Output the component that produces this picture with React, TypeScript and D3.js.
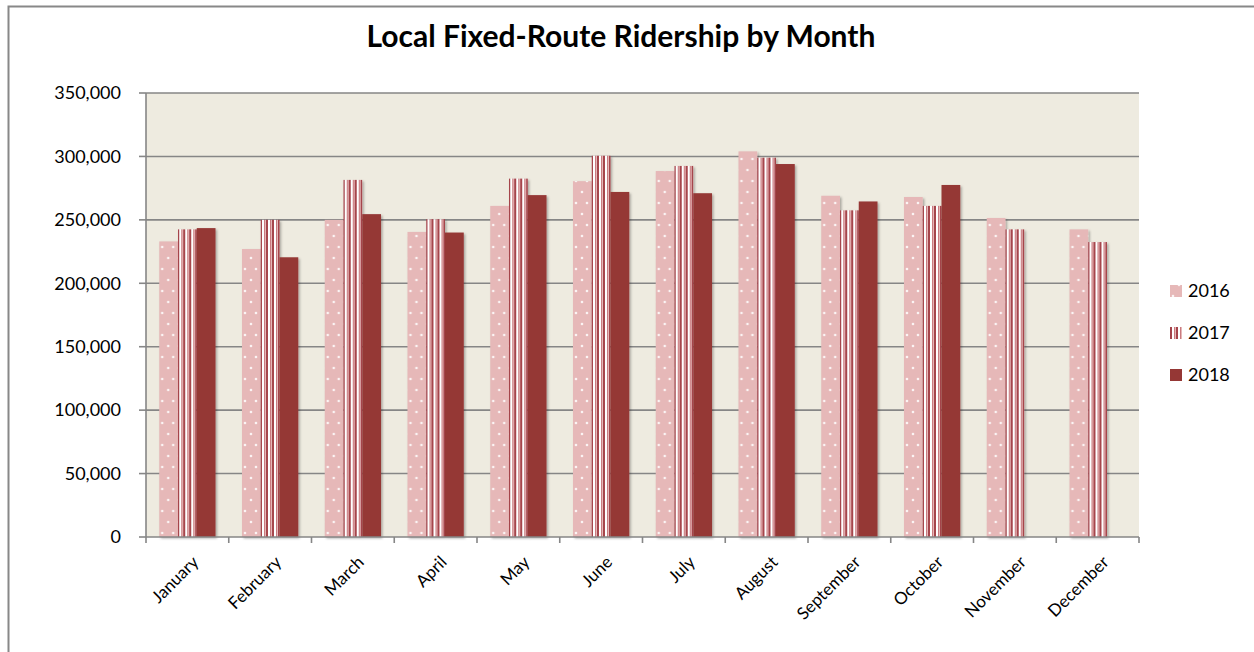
import React from 'react';
import * as d3 from 'd3';

const months = ['January', 'February', 'March', 'April', 'May', 'June', 'July', 'August', 'September', 'October', 'November', 'December'];
const years = ['2016', '2017', '2018'];
const rides2016 = [233000, 227000, 250000, 240500, 261000, 280500, 288500, 304000, 269000, 268000, 251500, 242500];
const rides2017 = [242500, 250000, 281500, 250500, 282500, 300500, 292500, 299000, 257500, 261000, 242500, 232500];
const rides2018 = [243500, 220500, 254500, 240000, 269500, 272000, 271000, 294000, 264500, 277500, null, null];
const yTicks = [0, 50000, 100000, 150000, 200000, 250000, 300000, 350000];

const W = 1254, H = 652;
const margin = { left: 146, right: 115, top: 93, bottom: 115 };
const font = 'Lato, "Open Sans", sans-serif';

export default function App() {
    const series = [rides2016, rides2017, rides2018];
    const fills = ['url(#dots)', 'url(#stripes)', '#953735'];

    const xScale = d3.scaleBand<string>()
        .domain(months)
        .range([margin.left, W - margin.right])
        .paddingInner(0.32)
        .paddingOuter(0.16);
    const inner = d3.scaleBand<string>()
        .domain(years)
        .range([0, xScale.bandwidth()]);
    const yScale = d3.scaleLinear()
        .domain([0, 350000])
        .range([H - margin.bottom, margin.top]);
    const fmt = d3.format(',');
    const x0 = margin.left, x1 = W - margin.right, y0 = yScale(0);
    const step = xScale.step();

    return (
        <svg width={W} height={H} style={{ position: 'absolute', left: 0, top: 0 }} fontFamily={font}>
            <defs>
                <pattern id="dots" width={11} height={22} patternUnits="userSpaceOnUse">
                    <rect width={11} height={22} fill="#E6B8B8" />
                    <circle cx={3} cy={5} r={1.3} fill="#fff" opacity={0.85} />
                    <circle cx={9} cy={16} r={1.3} fill="#fff" opacity={0.85} />
                </pattern>
                <pattern id="stripes" width={6} height={10} patternUnits="userSpaceOnUse">
                    <rect width={6} height={10} fill="#E6B8B8" />
                    <rect x={0} width={2} height={10} fill="#A5444B" />
                    <rect x={2} width={2} height={10} fill="#fff" />
                    <rect x={4} width={1} height={10} fill="#C97B80" />
                </pattern>
                <filter id="shadow" x="-20%" y="-5%" width="140%" height="110%">
                    <feDropShadow dx={1.5} dy={1.5} stdDeviation={1.2} floodColor="#000" floodOpacity={0.3} />
                </filter>
            </defs>
            <rect x={8.5} y={6.5} width={W + 10} height={H + 10} fill="#fff" stroke="#888" strokeWidth={2} />
            <text x={621} y={47} textAnchor="middle" fontSize={30} fontWeight="bold" fill="#000">
                Local Fixed-Route Ridership by Month
            </text>
            <rect x={x0} y={margin.top} width={x1 - x0} height={y0 - margin.top} fill="#EEEBE0" />
            {yTicks.map(t => (
                <g key={t}>
                    {t > 0 && <line x1={x0} x2={x1} y1={yScale(t)} y2={yScale(t)} stroke="#868686" strokeWidth={1.6} />}
                    <line x1={x0 - 7} x2={x0} y1={yScale(t)} y2={yScale(t)} stroke="#868686" strokeWidth={1.6} />
                    <text x={121} y={yScale(t)} dy="0.35em" textAnchor="end" fontSize={18} fill="#000">{fmt(t)}</text>
                </g>
            ))}
            {months.map((m, i) => (
                <g key={m} transform={`translate(${xScale(m)}, 0)`}>
                    {series.map((s, j) => s[i] == null ? null : (
                        <rect key={j}
                            x={inner(years[j])}
                            y={yScale(s[i] as number)}
                            width={inner.bandwidth()}
                            height={y0 - yScale(s[i] as number)}
                            fill={fills[j]}
                            filter="url(#shadow)" />
                    ))}
                </g>
            ))}
            <line x1={x0} x2={x0} y1={margin.top} y2={y0} stroke="#868686" strokeWidth={1.6} />
            <line x1={x0} x2={x1} y1={y0} y2={y0} stroke="#868686" strokeWidth={1.6} />
            {d3.range(13).map(k => (
                <line key={k} x1={x0 + k * step} x2={x0 + k * step} y1={y0} y2={y0 + 6} stroke="#868686" strokeWidth={1.6} />
            ))}
            {months.map(m => {
                const cx = (xScale(m) as number) + xScale.bandwidth() / 2 + 8;
                return (
                    <text key={m} transform={`translate(${cx}, ${y0 + 22}) rotate(-45)`}
                        textAnchor="end" fontSize={17} fill="#000" dy="0.35em">{m}</text>
                );
            })}
            {years.map((yr, j) => (
                <g key={yr} transform={`translate(1170, ${291 + j * 42})`}>
                    <rect x={0} y={-6} width={12} height={12} fill={fills[j]} />
                    <text x={18} y={0} dy="0.35em" fontSize={18} fill="#000">{yr}</text>
                </g>
            ))}
        </svg>
    );
}
